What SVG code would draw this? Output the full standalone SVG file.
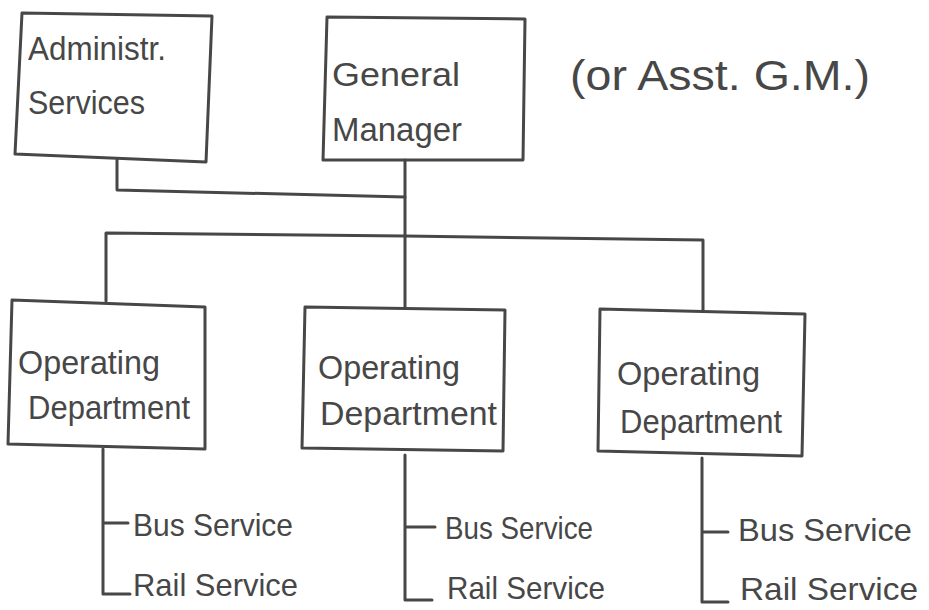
<svg xmlns="http://www.w3.org/2000/svg" width="929" height="610" viewBox="0 0 929 610">
  <style>
    .box { fill: none; stroke: #474747; stroke-width: 3; stroke-linejoin: round; }
    .wire { fill: none; stroke: #474747; stroke-width: 3; stroke-linecap: round; stroke-linejoin: round; }
    .lbl { font-family: "Liberation Sans", "DejaVu Sans", sans-serif; font-size: 33px; fill: #474747; }
    .svc { font-size: 32px; }
    .big { font-size: 42px; }
  </style>
  <rect width="929" height="610" fill="#ffffff"/>

  <!-- connectors -->
  <g id="connectors">
    <!-- staff link from Administr. Services into the GM line -->
    <path class="wire" d="M117,160 L117,190 L405,197"/>
    <!-- GM trunk down to the middle department -->
    <path class="wire" d="M405,160 L405,307"/>
    <!-- horizontal bus to the outer departments -->
    <path class="wire" d="M106,301 L106,233 L405,236 L703,240 L703,310"/>
    <!-- service branches -->
    <path class="wire" d="M103,449 L103,594 L130,594 M103,523 L128,523"/>
    <path class="wire" d="M405,455 L405,600 L432,600 M405,527 L435,527"/>
    <path class="wire" d="M702,458 L702,602 L728,602 M702,532 L728,532"/>
  </g>

  <g id="admin">
    <path class="box" d="M22,13 L212,16 L206,162 L15,154 Z"/>
    <text class="lbl" x="28" y="60" textLength="138" lengthAdjust="spacingAndGlyphs">Administr.</text>
    <text class="lbl" x="28" y="114" textLength="117" lengthAdjust="spacingAndGlyphs">Services</text>
  </g>

  <g id="general-manager">
    <path class="box" d="M327,17 L525,19 L523,160 L323,160 Z"/>
    <text class="lbl" x="332" y="86" textLength="128" lengthAdjust="spacingAndGlyphs">General</text>
    <text class="lbl" x="332" y="141" textLength="130" lengthAdjust="spacingAndGlyphs">Manager</text>
  </g>

  <g id="note">
    <text class="lbl big" x="570" y="90" textLength="300" lengthAdjust="spacingAndGlyphs">(or Asst. G.M.)</text>
  </g>

  <g id="ops-1">
    <path class="box" d="M12,300 L205,307 L205,449 L8,444 Z"/>
    <text class="lbl" x="18" y="374" textLength="142" lengthAdjust="spacingAndGlyphs">Operating</text>
    <text class="lbl" x="28" y="419" textLength="162" lengthAdjust="spacingAndGlyphs">Department</text>
  </g>

  <g id="ops-2">
    <path class="box" d="M305,307 L505,310 L503,451 L302,448 Z"/>
    <text class="lbl" x="318" y="379" textLength="142" lengthAdjust="spacingAndGlyphs">Operating</text>
    <text class="lbl" x="320" y="425" textLength="177" lengthAdjust="spacingAndGlyphs">Department</text>
  </g>

  <g id="ops-3">
    <path class="box" d="M600,309 L805,314 L802,456 L598,451 Z"/>
    <text class="lbl" x="617" y="385" textLength="143" lengthAdjust="spacingAndGlyphs">Operating</text>
    <text class="lbl" x="620" y="433" textLength="162" lengthAdjust="spacingAndGlyphs">Department</text>
  </g>

  <g id="services-1">
    <text class="lbl svc" x="133" y="536" textLength="160" lengthAdjust="spacingAndGlyphs">Bus Service</text>
    <text class="lbl svc" x="133" y="596" textLength="165" lengthAdjust="spacingAndGlyphs">Rail Service</text>
  </g>

  <g id="services-2">
    <text class="lbl svc" x="445" y="539" textLength="148" lengthAdjust="spacingAndGlyphs">Bus Service</text>
    <text class="lbl svc" x="447" y="599" textLength="158" lengthAdjust="spacingAndGlyphs">Rail Service</text>
  </g>

  <g id="services-3">
    <text class="lbl svc" x="738" y="541" textLength="174" lengthAdjust="spacingAndGlyphs">Bus Service</text>
    <text class="lbl svc" x="740" y="600" textLength="178" lengthAdjust="spacingAndGlyphs">Rail Service</text>
  </g>
</svg>
